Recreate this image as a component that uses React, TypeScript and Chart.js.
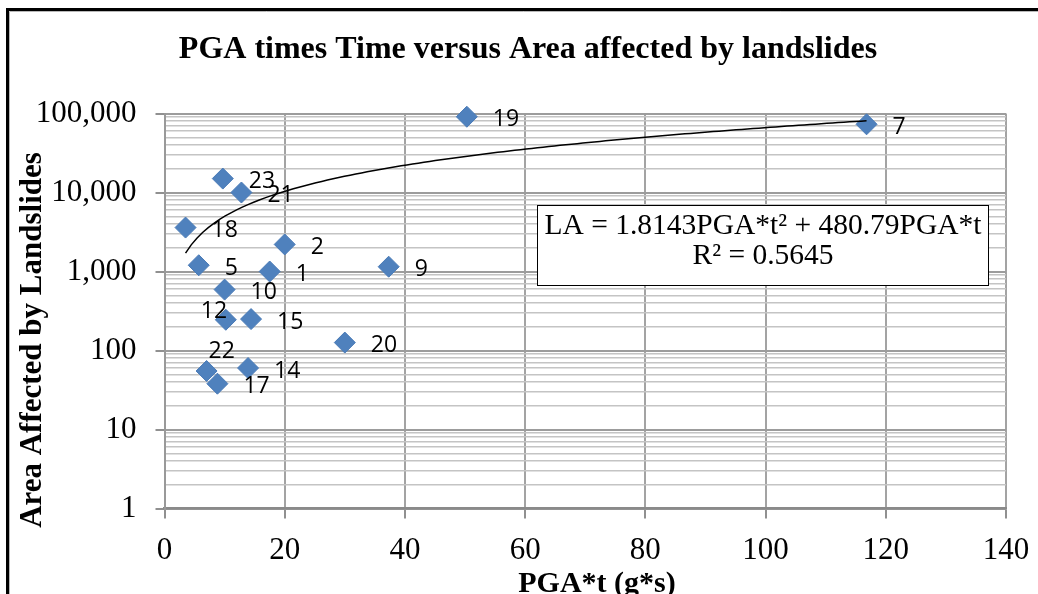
import React, { useEffect, useRef } from 'react';
import { Chart, registerables } from 'chart.js';

Chart.register(...registerables);

// Earthquake event ids, PGA*t (g*s) and area affected by landslides
const eventIds = ['19', '7', '23', '21', '18', '2', '5', '1', '9', '10', '12', '15', '20', '22', '14', '17'];
const pgaTimesT = [50.3, 116.8, 9.7, 12.8, 3.5, 20.0, 5.7, 17.5, 37.3, 10.0, 10.2, 14.4, 30.0, 7.0, 13.9, 8.8];
const areaAffected = [91000, 73000, 15000, 10000, 3600, 2200, 1200, 1000, 1150, 590, 245, 250, 126, 55, 60, 38];

// Polynomial trend line: LA = a*x^2 + b*x
const fitQuadratic = 1.8143;
const fitLinear = 480.79;
const fitR2 = 0.5645;

const xTickValues = [0, 20, 40, 60, 80, 100, 120, 140];
const yDecades = [1, 10, 100, 1000, 10000, 100000];
const yMinorSteps = [2, 3, 4, 5, 6, 7, 8, 9];

const chartTitle = 'PGA times Time versus Area affected by landslides';
const xAxisTitle = 'PGA*t (g*s)';
const yAxisTitle = 'Area Affected by Landslides';
const equationText = `LA = ${fitQuadratic}PGA*t\u00B2 + ${fitLinear}PGA*t`;
const r2Text = `R\u00B2 = ${fitR2}`;

const W = 1038;
const H = 594;
const SERIF = '"Liberation Serif", "Times New Roman", serif';
const SANS = '"Open Sans", "Liberation Sans", sans-serif';

// label placement relative to each marker (default: right of marker)
const defaultLabelOffset: [number, number] = [26, 3];
const labelOffsets: Record<string, [number, number]> = {
  '12': [-25, -8],
  '22': [2, -20],
};

function isDecade(v: number) {
  const l = Math.log10(v);
  return Math.abs(l - Math.round(l)) < 1e-9;
}

function trendPoints() {
  const lo = Math.min(...pgaTimesT);
  const hi = Math.max(...pgaTimesT);
  const n = 120;
  const pts: { x: number; y: number }[] = [];
  for (let i = 0; i <= n; i++) {
    const x = lo + ((hi - lo) * i) / n;
    pts.push({ x, y: fitQuadratic * x * x + fitLinear * x });
  }
  return pts;
}

const decorPlugin = {
  id: 'decor',
  beforeDraw(chart: any) {
    const ctx = chart.ctx as CanvasRenderingContext2D;
    ctx.save();
    ctx.fillStyle = '#ffffff';
    ctx.fillRect(0, 0, W, H);
    // soft inner shadow of the frame
    ctx.strokeStyle = '#b8b8b8';
    ctx.lineWidth = 1;
    ctx.beginPath();
    ctx.moveTo(9.5, H);
    ctx.lineTo(9.5, 11.5);
    ctx.lineTo(W, 11.5);
    ctx.stroke();
    // outer frame
    ctx.strokeStyle = '#000000';
    ctx.lineWidth = 3;
    ctx.beginPath();
    ctx.moveTo(7.5, H);
    ctx.lineTo(7.5, 9.5);
    ctx.lineTo(W, 9.5);
    ctx.stroke();
    ctx.restore();
  },
  afterDatasetsDraw(chart: any) {
    const ctx = chart.ctx as CanvasRenderingContext2D;
    const meta = chart.getDatasetMeta(1);
    ctx.save();
    ctx.fillStyle = '#000000';
    ctx.font = `23px ${SANS}`;
    ctx.textAlign = 'left';
    ctx.textBaseline = 'middle';
    meta.data.forEach((pt: any, i: number) => {
      const id = eventIds[i];
      const [dx, dy] = labelOffsets[id] || defaultLabelOffset;
      ctx.fillText(id, pt.x + dx, pt.y + dy);
    });
    ctx.restore();
  },
  afterDraw(chart: any) {
    const ctx = chart.ctx as CanvasRenderingContext2D;
    ctx.save();
    ctx.fillStyle = '#000000';
    ctx.textAlign = 'center';
    ctx.textBaseline = 'middle';

    ctx.font = `bold 32px ${SERIF}`;
    ctx.fillText(chartTitle, 528, 50);

    ctx.font = `bold 30px ${SERIF}`;
    ctx.fillText(xAxisTitle, 597, 584);

    ctx.save();
    ctx.translate(33, 340);
    ctx.rotate(-Math.PI / 2);
    ctx.font = `bold 31px ${SERIF}`;
    ctx.fillText(yAxisTitle, 0, 0);
    ctx.restore();

    // trend equation box
    ctx.fillStyle = '#ffffff';
    ctx.fillRect(537.5, 205.5, 451, 80);
    ctx.strokeStyle = '#000000';
    ctx.lineWidth = 1;
    ctx.strokeRect(537.5, 205.5, 451, 80);
    ctx.fillStyle = '#000000';
    ctx.font = `29.5px ${SERIF}`;
    ctx.fillText(equationText, 763, 226);
    ctx.fillText(r2Text, 763, 256);
    ctx.restore();
  },
};

export default function App() {
  const canvasRef = useRef<HTMLCanvasElement | null>(null);

  useEffect(() => {
    const canvas = canvasRef.current;
    if (!canvas) return;

    const chart = new Chart(canvas, {
      type: 'scatter',
      data: {
        datasets: [
          {
            label: 'Trend',
            data: trendPoints(),
            showLine: true,
            borderColor: '#000000',
            borderWidth: 1.5,
            pointRadius: 0,
            tension: 0,
            order: 0,
            clip: false,
          },
          {
            label: 'Events',
            data: pgaTimesT.map((x, i) => ({ x, y: areaAffected[i] })),
            pointStyle: 'rectRot',
            pointRadius: 10.5,
            backgroundColor: '#4f81bd',
            borderColor: '#4a7bb7',
            borderWidth: 1,
            showLine: false,
            order: 1,
            clip: false,
          },
        ],
      },
      options: {
        animation: false,
        responsive: false,
        devicePixelRatio: 1,
        events: [],
        layout: { padding: { left: 0, top: 113.5, right: 32, bottom: 0 } },
        plugins: {
          legend: { display: false },
          tooltip: { enabled: false },
          title: { display: false },
        },
        scales: {
          x: {
            type: 'linear',
            min: 0,
            max: 140,
            afterFit(scale: any) {
              scale.height = H - 508.5;
              scale.paddingLeft = 0;
              scale.paddingRight = 0;
            },
            afterBuildTicks(scale: any) {
              scale.ticks = xTickValues.map((value) => ({ value }));
            },
            ticks: {
              autoSkip: false,
              maxRotation: 0,
              padding: 14,
              color: '#000000',
              font: { family: SERIF, size: 31 },
            },
            grid: {
              color: '#a3a3a3',
              lineWidth: 2,
              tickLength: 10,
              tickColor: '#909090',
            },
            border: { color: '#8a8a8a', width: 2.5 },
          },
          y: {
            type: 'logarithmic',
            min: 1,
            max: 100000,
            afterFit(scale: any) {
              scale.width = 164.5;
              scale.paddingTop = 0;
              scale.paddingBottom = 0;
            },
            afterBuildTicks(scale: any) {
              const ticks: { value: number }[] = [];
              yDecades.forEach((d, i) => {
                ticks.push({ value: d });
                if (i < yDecades.length - 1) {
                  yMinorSteps.forEach((m) => ticks.push({ value: d * m }));
                }
              });
              scale.ticks = ticks;
            },
            ticks: {
              autoSkip: false,
              padding: 19,
              color: '#000000',
              font: { family: SERIF, size: 31 },
              callback: (v: any) => (isDecade(Number(v)) ? Number(v).toLocaleString('en-US') : ''),
            },
            grid: {
              color: (c: any) => (c.tick && isDecade(c.tick.value) ? '#9c9c9c' : '#c4c4c4'),
              lineWidth: (c: any) => (c.tick && isDecade(c.tick.value) ? 2 : 1.5),
              tickLength: 9,
              tickColor: (c: any) => (c.tick && isDecade(c.tick.value) ? '#909090' : 'rgba(0,0,0,0)'),
            },
            border: { color: '#999999', width: 2 },
          },
        },
      },
      plugins: [decorPlugin],
    });

    return () => chart.destroy();
  }, []);

  return (
    <div style={{ position: 'fixed', left: 0, top: 0, width: W, height: H, background: '#ffffff' }}>
      <canvas ref={canvasRef} width={W} height={H} style={{ display: 'block', width: W, height: H }} />
    </div>
  );
}
